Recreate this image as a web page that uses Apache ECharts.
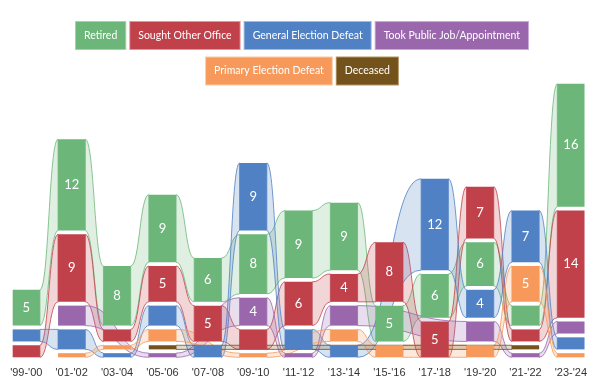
<!DOCTYPE html>
<html>
<head>
<meta charset="utf-8">
<script src="https://cdn.jsdelivr.net/npm/echarts@6/dist/echarts.min.js"></script>
<style>html,body{margin:0;padding:0;background:#fff}#chart{width:600px;height:389px}</style>
</head>
<body>
<div id="chart"></div>
<script>
// ---- data ----
const years = ["'99-'00","'01-'02","'03-'04","'05-'06","'07-'08","'09-'10","'11-'12","'13-'14","'15-'16","'17-'18","'19-'20","'21-'22","'23-'24"];
const categories = ['Retired','Sought Other Office','General Election Defeat','Took Public Job/Appointment','Primary Election Defeat','Deceased'];
const retired       = [5,12,8,9,6,8,9,9,5,6,6,3,16];
const soughtOffice  = [2,9,2,5,5,3,6,4,8,5,7,2,14];
const generalDefeat = [2,3,1,3,2,9,3,2,0,12,4,7,2];
const tookJob       = [0,3,0,1,0,4,1,3,0,0,3,1,2];
const primaryDefeat = [0,1,1,2,0,1,0,2,2,0,2,5,1];
const deceased      = [0,0,0,1,0,0,0,0,0,0,0,1,0];

const values = [retired, soughtOffice, generalDefeat, tookJob, primaryDefeat, deceased];
const colors = ['#6db679','#c0414a','#4f81c4','#9a67ad','#f7995a','#73521b'];
const borders = ['#a3d5ab','#e3959a','#9dbde6','#cba9d9','#fccaa4','#b09466'];
const GAP = 3.8;
const LABEL_MIN = 4;

function rgba(hex, a){
  const n = parseInt(hex.slice(1),16);
  return 'rgba(' + (n>>16&255) + ',' + (n>>8&255) + ',' + (n&255) + ',' + a + ')';
}

// stacking: smallest at bottom, ties by category order
const bases = values.map(() => years.map(() => 0));
years.forEach((y, i) => {
  const order = values.map((_, c) => c).sort((a, b) => (values[a][i] - values[b][i]) || (a - b));
  let acc = 0;
  order.forEach(c => { bases[c][i] = acc; acc += values[c][i]; });
});

const series = [];
values.forEach((vals, c) => {
  const barData = [];
  const present = [];
  vals.forEach((v, i) => { if (v > 0) { barData.push([i, bases[c][i], v]); present.push(i); } });
  const ribbonData = [];
  for (let k = 0; k + 1 < present.length; k++) {
    const i = present[k], j = present[k+1];
    ribbonData.push([i, j, bases[c][i], vals[i], bases[c][j], vals[j]]);
  }
  series.push({
    name: categories[c], type: 'custom', z: 1, clip: false, silent: true,
    encode: {x: [0, 1], y: 2},
    data: ribbonData,
    renderItem: function(params, api){
      const i = api.value(0), j = api.value(1);
      const bi = api.value(2), vi = api.value(3), bj = api.value(4), vj = api.value(5);
      const w = api.size([1, 0])[0] * 0.6;
      const x0 = api.coord([i, 0])[0] + w/2;
      const x1 = api.coord([j, 0])[0] - w/2;
      const y0t = api.coord([i, bi+vi])[1] + GAP, y0b = api.coord([i, bi])[1];
      const y1t = api.coord([j, bj+vj])[1] + GAP, y1b = api.coord([j, bj])[1];
      const mx = (x0 + x1) / 2;
      const d = 'M' + x0 + ',' + y0t + 'C' + mx + ',' + y0t + ' ' + mx + ',' + y1t + ' ' + x1 + ',' + y1t +
                'L' + x1 + ',' + y1b + 'C' + mx + ',' + y1b + ' ' + mx + ',' + y0b + ' ' + x0 + ',' + y0b + 'Z';
      return {
        type: 'path',
        shape: {pathData: d},
        style: {fill: rgba(colors[c], 0.22), stroke: rgba(colors[c], 0.8), lineWidth: 1}
      };
    }
  });
  series.push({
    name: categories[c], type: 'custom', z: 3, clip: false,
    encode: {x: 0, y: 1},
    data: barData,
    renderItem: function(params, api){
      const i = api.value(0), b = api.value(1), v = api.value(2);
      const w = api.size([1, 0])[0] * 0.6;
      const cx = api.coord([i, 0])[0];
      const yTop = api.coord([i, b+v])[1] + GAP;
      const yBot = api.coord([i, b])[1];
      const children = [{
        type: 'rect',
        shape: {x: cx - w/2, y: yTop, width: w, height: yBot - yTop},
        style: {fill: colors[c]}
      }];
      if (v >= LABEL_MIN) {
        children.push({
          type: 'text',
          style: {text: String(v), x: cx, y: (yTop + yBot)/2, align: 'center', verticalAlign: 'middle',
                  fill: '#fff', fontSize: 13, fontFamily: 'Lato'}
        });
      }
      return {type: 'group', children: children};
    }
  });
});

function legendItems(list){
  return list.map(name => {
    const c = categories.indexOf(name);
    return {name: name, icon: 'rect',
      textStyle: {color: '#fff', backgroundColor: colors[c], borderColor: borders[c], borderWidth: 1,
                  padding: [7, 8, 7, 8], fontSize: 10.5, lineHeight: 13, fontFamily: 'Lato'}};
  });
}

const chart = echarts.init(document.getElementById('chart'), null, {renderer: 'canvas'});
chart.setOption({
  animation: false,
  color: colors,
  legend: [
    {left: 'center', top: 16, itemWidth: 0, itemHeight: 0, itemGap: -1, selectedMode: false,
     data: legendItems(categories.slice(0, 4))},
    {left: 'center', top: 51.5, itemWidth: 0, itemHeight: 0, itemGap: -1, selectedMode: false,
     data: legendItems(categories.slice(4))}
  ],
  grid: {left: 3.6, right: 6.4, top: 80, bottom: 31.7},
  xAxis: {
    type: 'category', data: years,
    axisLine: {show: false}, axisTick: {show: false}, splitLine: {show: false},
    axisLabel: {interval: 0, color: '#333', fontSize: 11, fontFamily: 'Liberation Sans', margin: 10}
  },
  yAxis: {type: 'value', min: 0, max: 35, show: false},
  series: series
});
</script>
</body>
</html>
